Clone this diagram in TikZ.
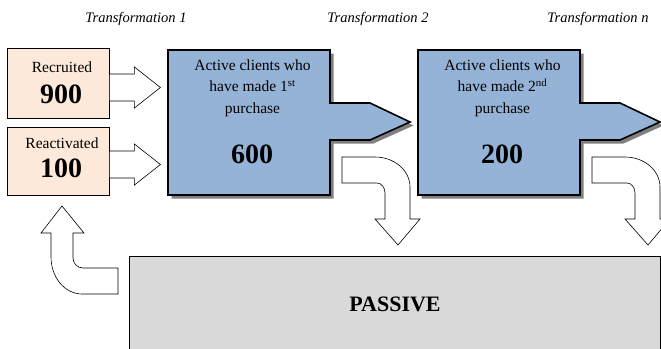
\documentclass[tikz,border=0pt]{standalone}
\usepackage{fontspec}
\setmainfont{Liberation Serif}
\usetikzlibrary{shadows}

\definecolor{peach}{HTML}{FDE9D9}
\definecolor{stageblue}{HTML}{95B3D7}
\definecolor{passivegray}{HTML}{D9D9D9}

\newcommand{\boxfont}{\fontsize{15.5}{21.5}\selectfont}
\newcommand{\numfont}{\fontsize{28}{30}\selectfont\bfseries}

\tikzset{pics/inarrow/.style={code={
  \draw[hollow] (0,-13.5) -- (25,-13.5) -- (25,-20.5) -- (51,0) -- (25,20.5) -- (25,13.5) -- (0,13.5) -- cycle;}}}

\begin{document}
\begin{tikzpicture}[x=1pt,y=-1pt,every node/.style={inner sep=0pt},
  srcbox/.style={draw,fill=peach,line width=0.8pt,minimum width=102pt,minimum height=70pt},
  stage/.style={draw,fill=stageblue,line width=1.6pt,
    drop shadow={shadow xshift=3.5pt,shadow yshift=-3.5pt,fill=black!50,opacity=1}},
  hollow/.style={draw,fill=white,line width=0.6pt},
  trcaption/.style={font=\fontsize{14.5}{16}\selectfont\itshape,anchor=base},
  boxtext/.style={font=\boxfont,align=center},
  numtext/.style={font=\numfont,anchor=base}]
  \useasboundingbox (0,0) rectangle (661,348);
  \clip (0,0) rectangle (661,348);

  % captions
  \node[trcaption] (tr1) at (136,22) {Transformation 1};
  \node[trcaption] (tr2) at (378,22) {Transformation 2};
  \node[trcaption] (trn) at (598,22) {Transformation n};

  % incoming clients
  \node[srcbox] (rec) at (58,83) {};
  \node[srcbox,minimum height=68pt] (react) at (58,161) {};
  \node[boxtext,anchor=base] (rectxt) at (62,72) {Recruited};
  \node[numtext] (recnum) at (61,103) {900};
  \node[boxtext,anchor=base] (reacttxt) at (62,148) {Reactivated};
  \node[numtext] (reactnum) at (61,177) {100};
  \pic at ([yshift=-4.5pt]rec.east) {inarrow};
  \pic at ([yshift=-3.5pt]react.east) {inarrow};

  % purchase stages
  \foreach \k/\n/\s in {1/600/st,2/200/nd}{
    \begin{scope}[xshift={(\k-1)*250pt}]
      \draw[stage] (168,50) -- (330,50) -- (330,103) -- (370,103) -- (410,122)
        -- (370,140) -- (330,140) -- (330,195) -- (168,195) -- cycle;
      \node[boxtext,anchor=north] (act\k) at (252.5,59.5)
        {Active clients who\\have made \k\textsuperscript{\s}\\purchase};
      \node[numtext] (num\k) at (252,163) {\n};
      \draw[hollow] (342,157) -- (375,157) arc(270:360:35 and 30) -- (410,219)
        -- (420,219) -- (398,245) -- (375,219) -- (385,219) -- (385,193)
        arc(0:-90:8 and 10) -- (342,183) -- cycle;
    \end{scope}
  }

  % passive clients
  \draw[fill=passivegray,line width=0.8pt] (129,256) rectangle (660,360);
  \node[font=\fontsize{22}{24}\selectfont\bfseries,anchor=base] (pas) at (395,311) {PASSIVE};
  \draw[hollow] (62,206) -- (84,233) -- (73,233) -- (73,258) arc(180:90:10)
    -- (118,268) -- (118,294) -- (82,294) arc(90:180:31 and 37) -- (51,233)
    -- (41,233) -- cycle;
\end{tikzpicture}
\end{document}
